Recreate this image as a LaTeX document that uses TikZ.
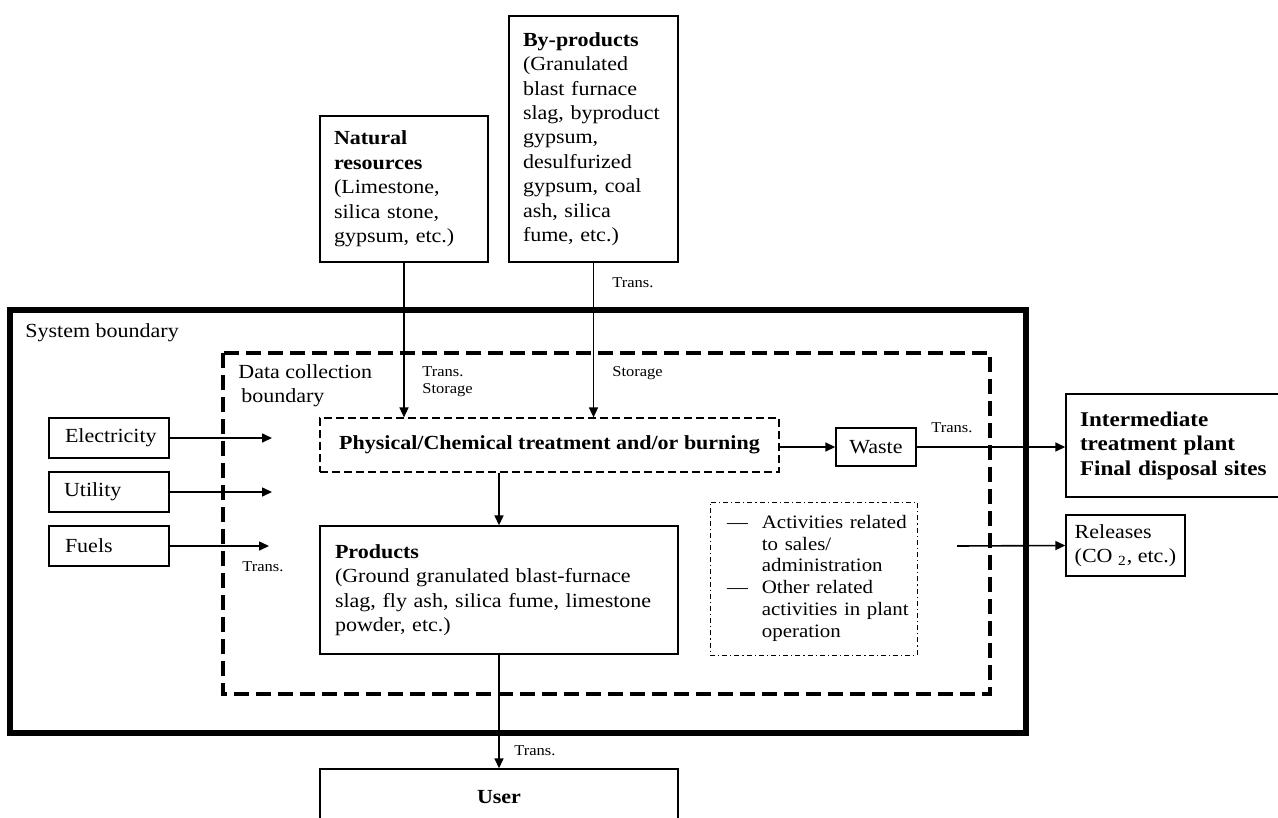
\documentclass[tikz,border=0pt]{standalone}
\usepackage{fontspec}
\setmainfont[FakeStretch=1.1]{Liberation Serif}
\usetikzlibrary{arrows.meta}

\begin{document}
\begin{tikzpicture}[x=0.5pt, y=-0.5pt,
    box/.style={draw, line width=0.7pt, inner ysep=2pt, font=\fontsize{10}{12.2}\selectfont},
    dbox/.style={draw, line width=0.6pt, dash pattern=on 4pt off 2pt},
    ddbox/.style={draw, line width=0.5pt, dash pattern=on 2.5pt off 1.5pt on 0.6pt off 1.5pt},
    lbl/.style={anchor=west, inner sep=0pt, font=\fontsize{7.5}{8.6}\selectfont, align=left},
    arr/.style={-{Triangle[length=5pt, width=4.5pt]}, line width=0.8pt}]
    \useasboundingbox (0,0) rectangle (1278,818);

    % boundaries
    \draw[line width=2.6pt] (10,310) rectangle (1026,733);
    \node(sysb)[anchor=west, inner sep=0pt, font=\fontsize{10}{12}\selectfont] at (25,333) {System boundary};
    \draw[line width=2pt, dash pattern=on 7.5pt off 3.5pt] (223,353) rectangle (990,694);
    \node(dcb)[anchor=north west, inner sep=0pt, align=left, font=\fontsize{10}{12.2}\selectfont] at (238,364) {Data collection\\\hspace{1.5pt}boundary};

    %%%%%%%%%%%%%%%%%%%%%%%%%%%%%%%%%%%%%%%%%%%%%%%%%%%%%%

    \node(natural)[box, minimum width=84pt, minimum height=73pt, inner xsep=7pt, text width=70pt, align=left] at (404,189)
        {\textbf{Natural\\resources}\\(Limestone,\\silica stone,\\gypsum, etc.)};
    \node(byprod)[box, minimum width=84.5pt, minimum height=123pt, inner xsep=7pt, text width=70.5pt, align=left] at (593.5,139)
        {\textbf{By-products}\\(Granulated\\blast furnace\\slag, byproduct\\gypsum,\\desulfurized\\gypsum, coal\\ash, silica\\fume, etc.)};

    \node(phys)[box, dbox, minimum width=229.5pt, minimum height=27pt] at (549.5,445)
        {\textbf{Physical/Chemical treatment and/or burning}};
    \node(prod)[box, minimum width=179pt, minimum height=64pt, inner xsep=7.5pt, text width=164pt, align=left] at (499,590)
        {\textbf{Products}\\(Ground granulated blast-furnace\\slag, fly ash, silica fume, limestone\\powder, etc.)};
    \node(user)[box, minimum width=179pt, minimum height=28pt] at (499,797) {\textbf{User}};

    %%%%%%%%%%%%%%%%%%%%%%%%%%%%%%%%%%%%%%%%%%%%%%%%%%%%%%

    \node(elec)[box, minimum width=60pt, minimum height=20pt, inner xsep=8pt, text width=44pt, align=left] at (109,438) {Electricity};
    \node(util)[box, minimum width=60pt, minimum height=20pt, inner xsep=7.5pt, text width=45pt, align=left] at (109,492) {Utility};
    \node(fuel)[box, minimum width=60pt, minimum height=20pt, inner xsep=8pt, text width=44pt, align=left] at (109,546) {Fuels};
    \coordinate(elecend) at (272,438);
    \coordinate(utilend) at (272,492);
    \coordinate(fuelend) at (269,546);
    \node(fueltr)[lbl] at (242,567) {Trans.};

    \draw[arr] (elec) -- (elecend);
    \draw[arr] (util) -- (utilend);
    \draw[arr] (fuel) -- (fuelend);

    %%%%%%%%%%%%%%%%%%%%%%%%%%%%%%%%%%%%%%%%%%%%%%%%%%%%%%

    \draw[arr] (natural.south) -- (natural.south |- phys.north);
    \node(nattr)[lbl] at (422,382) {Trans.\\Storage};
    \draw[arr] (byprod.south) -- (byprod.south |- phys.north);
    \node(bytr)[lbl] at (612,283) {Trans.};
    \node(byst)[lbl] at (612,373) {Storage};

    \draw[arr] (prod.north |- phys.south) -- (prod.north);
    \draw[arr] (prod.south) -- (user.north);
    \node(usertr)[lbl] at (514,751) {Trans.};

    %%%%%%%%%%%%%%%%%%%%%%%%%%%%%%%%%%%%%%%%%%%%%%%%%%%%%%

    \node(waste)[box, minimum width=40pt, minimum height=19pt] at (876,447) {Waste};
    \node(inter)[box, minimum width=130pt, minimum height=51.5pt, inner xsep=7pt, text width=116pt, align=left] at (1196,445.5)
        {\textbf{\fontsize{10.5}{12.3}\selectfont Intermediate\\treatment plant\\Final disposal sites}};
    \draw[arr] (phys.east |- waste) -- (waste.west);
    \draw[arr] (waste.east) -- (inter.west |- waste);
    \node(wastetr)[lbl] at (931,428) {Trans.};

    \node(acts)[box, ddbox, minimum width=103.5pt, minimum height=76.5pt, inner xsep=8.5pt, text width=86.5pt, align=left] at (813.5,578.5)
        {\fontsize{9.5}{10.9}\selectfont
         \begin{tabular}{@{}l@{\hspace{7pt}}l@{}}
         \textemdash & Activities related\\
                     & to sales/\\
                     & administration\\
         \textemdash & Other related\\
                     & activities in plant\\
                     & operation
         \end{tabular}};

    \node(rel)[box, minimum width=59.5pt, minimum height=30.5pt, align=left] at (1125.5,545.5)
        {Releases\\(CO \textsubscript{2}, etc.)};
    \coordinate(relstart) at (957,546);
    \draw[arr] (relstart) -- (rel.west);
\end{tikzpicture}
\end{document}
